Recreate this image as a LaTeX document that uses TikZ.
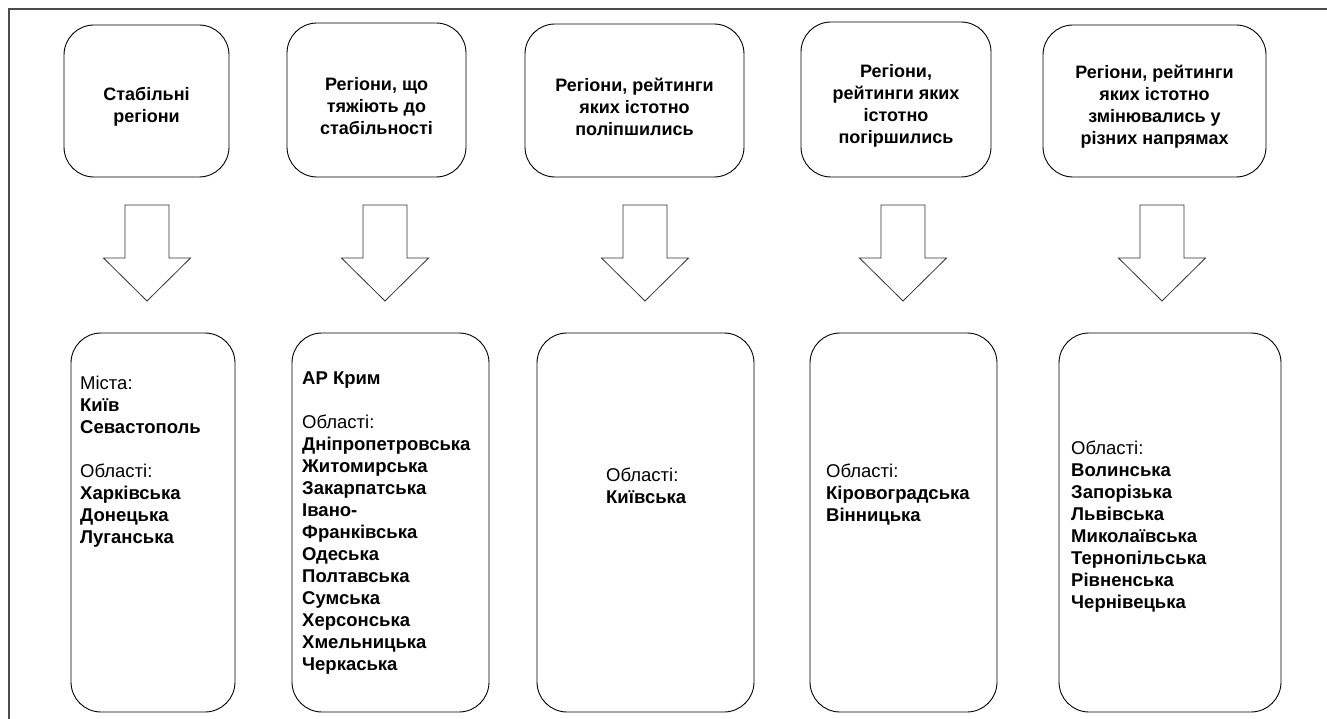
\documentclass[tikz,border=0pt]{standalone}
\usepackage{fontspec}
\setmainfont{Liberation Sans}
\begin{document}
\begin{tikzpicture}[x=1pt,y=-1pt,
  topbox/.style={draw=black, line width=0.9pt, rounded corners=30pt, inner sep=0pt},
  toptext/.style={align=center, inner sep=0pt, font=\fontsize{18}{22}\selectfont\bfseries},
  botbox/.style={draw=black, line width=0.9pt, rounded corners=30pt, inner sep=0pt},
  bottext/.style={anchor=base west, align=left, inner sep=0pt, font=\fontsize{18.5}{22}\selectfont},
  blockarr/.style={draw=black!80, line width=0.8pt, line join=miter}
]
\useasboundingbox (0,0) rectangle (1327,719);
% frame
\draw[draw=black!70, line width=2pt] (9,719) -- (9,9) -- (1327,9);

% top boxes
\node[topbox, minimum width=165pt, minimum height=152pt] (t1) at (146.5,101) {};
\node[topbox, minimum width=179pt, minimum height=154pt] (t2) at (376.5,100) {};
\node[topbox, minimum width=219pt, minimum height=153pt] (t3) at (634.5,100.5) {};
\node[topbox, minimum width=190pt, minimum height=155pt] (t4) at (896,99.5) {};
\node[topbox, minimum width=223pt, minimum height=152pt] (t5) at (1154.5,101) {};
\node[toptext] (l1) at ([yshift=-6pt]t1.center) {Стабільні\\регіони};
\node[toptext] (l2) at ([yshift=-6pt]t2.center) {Регіони, що\\тяжіють до\\стабільності};
\node[toptext] (l3) at ([yshift=-6pt]t3.center) {Регіони, рейтинги\\яких істотно\\поліпшились};
\node[toptext] (l4) at ([yshift=-6pt]t4.center) {Регіони,\\рейтинги яких\\істотно\\погіршились};
\node[toptext] (l5) at ([yshift=-6pt]t5.center) {Регіони, рейтинги\\яких істотно\\змінювались у\\різних напрямах};

% arrows
\foreach \n/\cx in {1/147, 2/385, 3/645, 4/903, 5/1162}{
  \coordinate (a\n) at (\cx,205);
  \draw[blockarr, shift={(a\n)}] (-22,0) -- (22,0) -- (22,53) -- (43.5,53) -- (0,96) -- (-43.5,53) -- (-22,53) -- cycle;
}

% bottom boxes
\node[botbox, minimum width=164pt, minimum height=379pt] (b1) at (153,522.5) {};
\node[botbox, minimum width=197pt, minimum height=379pt] (b2) at (390.5,522.5) {};
\node[botbox, minimum width=217pt, minimum height=379pt] (b3) at (645.5,522.5) {};
\node[botbox, minimum width=187pt, minimum height=379pt] (b4) at (903.5,522.5) {};
\node[botbox, minimum width=222pt, minimum height=379pt] (b5) at (1170,522.5) {};

% bottom texts (anchored at the baseline of their last line)
\node[bottext] (x1) at (80,543) {Міста:\\\textbf{Київ}\\\textbf{Севастополь}\\[22pt]Області:\\\textbf{Харківська}\\\textbf{Донецька}\\\textbf{Луганська}};
\node[bottext] (x2) at (302,670) {\textbf{АР Крим}\\[22pt]Області:\\\textbf{Дніпропетровська}\\\textbf{Житомирська}\\\textbf{Закарпатська}\\\textbf{Івано-}\\\textbf{Франківська}\\\textbf{Одеська}\\\textbf{Полтавська}\\\textbf{Сумська}\\\textbf{Херсонська}\\\textbf{Хмельницька}\\\textbf{Черкаська}};
\node[bottext] (x3) at (606,503) {Області:\\\textbf{Київська}};
\node[bottext] (x4) at (826,521) {Області:\\\textbf{Кіровоградська}\\\textbf{Вінницька}};
\node[bottext] (x5) at (1071,608) {Області:\\\textbf{Волинська}\\\textbf{Запорізька}\\\textbf{Львівська}\\\textbf{Миколаївська}\\\textbf{Тернопільська}\\\textbf{Рівненська}\\\textbf{Чернівецька}};
\end{tikzpicture}
\end{document}
